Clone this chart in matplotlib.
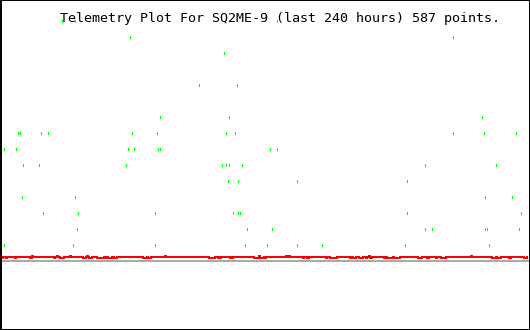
import matplotlib
matplotlib.use("Agg")
import matplotlib.pyplot as plt

title = "Telemetry Plot For SQ2ME-9 (last 240 hours) 587 points."

# Green scattered samples: time (hours) and level
green_hours = [27.6, 33.1, 125.7,
               58.6, 205.6,
               101.1,
               89.7, 107.0,
               71.9, 103.4, 219.2,
               7.1, 8.4, 18.0, 20.8, 59.5, 70.5, 102.4, 106.1, 206.0, 219.7, 234.3,
               0.7, 6.6, 57.3, 60.0, 71.0, 71.4, 72.3, 122.1, 125.3,
               9.4, 9.8, 17.1, 56.8, 100.2, 102.0, 103.8, 109.7, 192.8, 225.6,
               102.9, 107.9, 134.4, 185.0,
               8.9, 33.5, 220.6, 232.9,
               18.9, 34.5, 70.0, 105.6, 107.5, 108.4, 184.6, 236.6,
               34.0, 111.6, 112.0, 123.4, 193.2, 196.4, 220.2, 221.5, 236.1,
               1.1, 32.2, 69.6, 111.1, 120.7, 134.8, 145.8, 183.7, 222.0]
green_levels = [15, 15, 15,
                14, 14,
                13,
                11, 11,
                9, 9, 9,
                8, 8, 8, 8, 8, 8, 8, 8, 8, 8, 8,
                7, 7, 7, 7, 7, 7, 7, 7, 7,
                6, 6, 6, 6, 6, 6, 6, 6, 6, 6,
                5, 5, 5, 5,
                4, 4, 4, 4,
                3, 3, 3, 3, 3, 3, 3, 3,
                2, 2, 2, 2, 2, 2, 2, 2, 2,
                1, 1, 1, 1, 1, 1, 1, 1, 1]

# Red series (step breakpoints in hours and values)
red_hours = [0, 0.46, 1.83, 2.28, 5.93, 6.39, 12.78, 13.69, 14.14, 23.73, 24.18,
             25.09, 25.55, 26.46, 28.29, 31.03, 31.48, 36.96, 38.33, 38.78, 39.24,
             39.70, 41.06, 43.35, 46.54, 47.00, 47.91, 48.36, 50.19, 51.10, 52.47,
             64.33, 66.16, 66.62, 67.98, 74.37, 74.83, 94.45, 97.19, 98.55, 99.01,
             99.47, 99.92, 104.03, 104.49, 104.94, 105.40, 114.98, 117.26, 117.72,
             119.54, 120.00, 120.46, 129.58, 130.04, 130.49, 131.41, 137.34, 137.79,
             139.16, 140.07, 147.83, 148.28, 149.65, 152.85, 158.78, 159.24, 160.15,
             161.52, 162.89, 164.71, 166.08, 166.54, 167.45, 167.91, 168.82, 174.30,
             174.75, 175.66, 178.40, 178.86, 181.60, 189.81, 191.63, 193.91, 194.83,
             198.02, 198.48, 200.30, 202.58, 213.99, 214.45, 223.57, 225.40, 225.85,
             227.68, 231.33, 232.25, 238.18, 239.54, 240.00]
D, B, S = 0.1875, 0.25, 0.3125
red_values = [D, B, D, B, D, B, D, S, B, D, B,
              S, B, D, B, S, B, D, B, S, B,
              D, B, D, B, D, B, D, B, D, B,
              D, B, D, B, S, B, D, B, D, B,
              D, B, D, B, D, B, D, S, D,
              B, D, B, S, B, S, B, D, B,
              D, B, D, B, D, B, D, B, D,
              B, D, B, D, B, S, D, B, D,
              B, D, B, D, B, D, B, D, B,
              D, B, D, B, S, B, D, B, D,
              B, D, B, D, B, B]

# Gray baseline
gray_hours = [0, 240.9]
gray_values = [0, 0]

W, H = 530, 330
fig = plt.figure(figsize=(W / 100, H / 100), dpi=100)
fig.patch.set_facecolor("white")
ax = fig.add_axes([1 / W, 0, (W - 1) / W, 1])
ax.set_xlim(-0.456, 240.91)
ax.set_ylim(-4.3125, 16.3125)
ax.set_xticks([])
ax.set_yticks([])
for sp in ax.spines.values():
    sp.set_linewidth(1.44)
    sp.set_color("black")

px = 0.72  # one pixel in points
ax.plot(gray_hours, gray_values, color="#aaaaaa", lw=2 * px, antialiased=False,
        solid_capstyle="butt")
ax.plot(red_hours, red_values, color="#ff0000", lw=2 * px, drawstyle="steps-post",
        antialiased=False, solid_capstyle="butt")
half = 1.0 / 16
ax.vlines(green_hours, [g - half for g in green_levels], [g + half for g in green_levels],
          colors="#00ff00", lw=px, antialiased=False)

fig.text(60 / W, 1 - 22 / H, title, fontfamily="DejaVu Sans Mono", fontsize=9.6,
         color="black", ha="left", va="baseline")

fig.savefig("out.png", dpi=100, facecolor="white")
